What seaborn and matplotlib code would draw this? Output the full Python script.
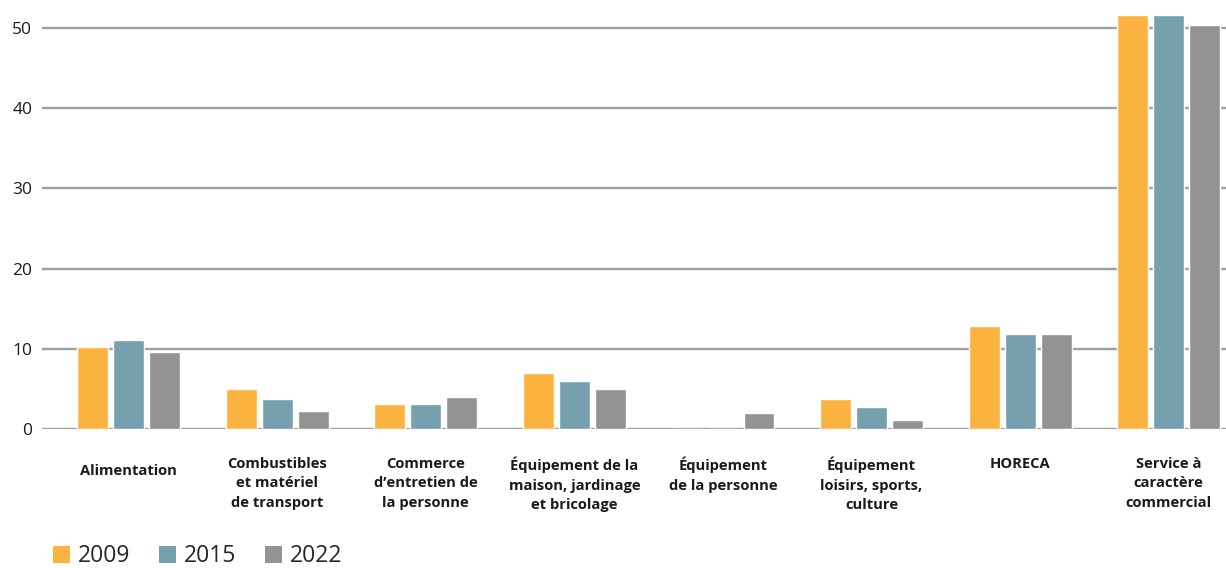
import matplotlib
matplotlib.use("Agg")
import matplotlib.pyplot as plt
from matplotlib.patches import Patch
from matplotlib.transforms import ScaledTranslation
import seaborn as sns
import pandas as pd

categories = [
    "Alimentation",
    "Combustibles\net matériel\nde transport",
    "Commerce\nd’entretien de\nla personne",
    "Équipement de la\nmaison, jardinage\net bricolage",
    "Équipement\nde la personne",
    "Équipement\nloisirs, sports,\nculture",
    "HORECA",
    "Service à\ncaractère\ncommercial",
]
years = ["2009", "2015", "2022"]
v2009 = [10.2, 5.0, 3.1, 7.0, 0.0, 3.7, 12.8, 51.6]
v2015 = [11.1, 3.7, 3.1, 6.0, 0.0, 2.7, 11.8, 51.6]
v2022 = [9.6, 2.2, 4.0, 5.0, 2.0, 1.1, 11.8, 50.4]
colors = ["#FBB23E", "#76A0AD", "#939492"]
yticks = [0, 10, 20, 30, 40, 50]

rows = []
for yr, vals in zip(years, [v2009, v2015, v2022]):
    for c, v in zip(categories, vals):
        rows.append({"cat": c, "year": yr, "val": v})
df = pd.DataFrame(rows)

sns.set_theme(style="white")
plt.rcParams["font.family"] = ["Open Sans", "DejaVu Sans"]

W, H = 1226, 568
fig = plt.figure(figsize=(W / 100, H / 100), dpi=100)
ax = fig.add_axes([42 / W, (H - 429) / H, (W - 42) / W, 429 / H])

sns.barplot(data=df, x="cat", y="val", hue="year", order=categories,
            hue_order=years, palette=colors, width=0.727, gap=0.14,
            saturation=1, legend=False, ax=ax, zorder=3)

ax.set_xlim(-0.584, 7.386)
ax.set_ylim(0, 53.5)
ax.set_yticks(yticks)
ax.set_yticklabels([str(t) for t in yticks], fontsize=12.5, color="#1a1a1a")
ax.yaxis.grid(True, color="#a0a0a0", linewidth=1.7, zorder=0)
ax.set_axisbelow(True)
for s in ax.spines.values():
    s.set_visible(False)
ax.tick_params(axis="y", length=0, pad=7)
ax.tick_params(axis="x", length=0, pad=20)
ax.set_xlabel("")
ax.set_ylabel("")
ax.set_xticks(range(len(categories)))
ax.set_xticklabels(categories, fontsize=10.6, fontweight="bold",
                   color="#1a1a1a", linespacing=1.5, va="top")
lbl0 = ax.get_xticklabels()[0]
lbl0.set_transform(lbl0.get_transform() + ScaledTranslation(0, -7 / 100, fig.dpi_scale_trans))

handles = [Patch(facecolor=c, edgecolor="none") for c in colors]
fig.legend(handles, years, loc="lower left", bbox_to_anchor=(48 / W, -5 / H),
           ncol=3, frameon=False, fontsize=16.5, handlelength=0.75,
           handleheight=0.75, handletextpad=0.35, columnspacing=1.25,
           borderaxespad=0, borderpad=0.2)

fig.savefig("out.png", dpi=100)
